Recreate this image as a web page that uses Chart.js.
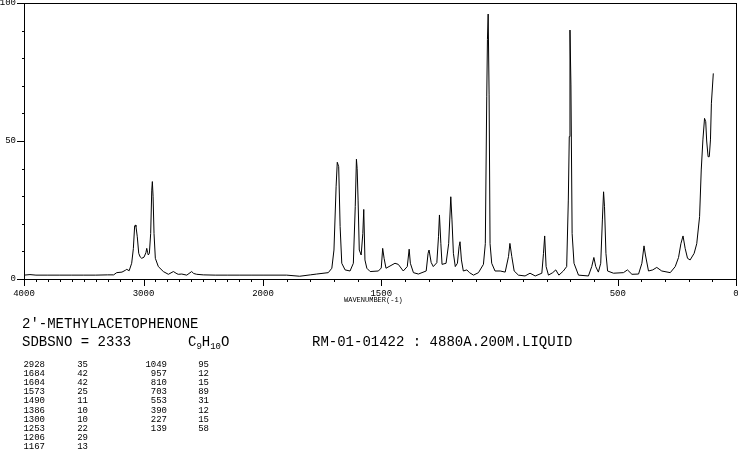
<!DOCTYPE html>
<html>
<head>
<meta charset="utf-8">
<script src="https://cdn.jsdelivr.net/npm/chart.js@4.4.1/dist/chart.umd.min.js"></script>
<style>
  html, body { margin:0; padding:0; background:#fff; }
  #wrap { position:relative; width:738px; height:457px; overflow:hidden; background:#fff; }
  canvas { position:absolute; left:0; top:0; }
  .t { position:absolute; font-family:"Liberation Mono","DejaVu Sans Mono",monospace; color:#000; white-space:pre; line-height:1; }
  .big { font-size:14px; }
  .sm { font-size:9px; }
  .xs { font-size:7px; }
  sub { font-size:9px; vertical-align:-3px; }
</style>
</head>
<body>
<div id="wrap">
  <canvas id="c" width="738" height="457"></canvas>
  <div class="t xs" id="xtitle" style="left:344px; top:297px;">WAVENUMBER(-1)</div>
  <div class="t big" style="left:22px; top:317px;">2'-METHYLACETOPHENONE</div>
  <div class="t big" style="left:22px; top:335px;">SDBSNO = 2333</div>
  <div class="t big" style="left:188px; top:335px;">C<sub>9</sub>H<sub>10</sub>O</div>
  <div class="t big" style="left:312px; top:335px;">RM-01-01422 : 4880A.200M.LIQUID</div>
  <div id="table"></div>
</div>
<script>
// ---- spectrum trace (wavenumber cm-1, relative intensity) ----
const wavenumbers = [
  4000,3950,3900,3800,3700,3600,3500,3400,3300,3250,3224,3180,3150,3140,3120,3099,3085,3074,3068,3063,
  3052,3040,3028,3015,2996,2980,2973,2965,2960,2951,2940,2931,2926,2920,2912,2901,2876,2834,2792,2750,
  2720,2709,2680,2638,2597,2580,2555,2500,2400,2300,2200,2100,2000,1900,1845,1800,1773,1724,1709,1700,
  1691,1686,1680,1674,1667,1653,1632,1618,1610,1605,1602,1598,1593,1585,1578,1574,1569,1561,1547,1512,
  1500,1494,1488,1480,1463,1442,1428,1407,1390,1382,1377,1364,1343,1310,1302,1298,1289,1280,1265,1258,
  1254,1248,1243,1226,1215,1206,1201,1195,1187,1178,1171,1167,1161,1153,1138,1127,1110,1089,1068,1060,
  1054,1051,1048,1044,1040,1033,1019,997,976,962,956,948,938,920,892,871,849,821,814,809,
  803,793,775,762,749,730,716,709,705,702,698,693,685,666,624,610,601,593,582,572,
  565,560,556,550,543,518,476,459,440,412,398,389,383,370,352,335,314,278,257,243,
  233,224,215,205,194,177,166,154,147,140,133,128,124,118,113,108,104,96
];
const intensities = [
  1.4,1.6,1.4,1.4,1.4,1.4,1.4,1.4,1.5,1.5,2.3,2.5,3.2,3.5,3.0,5.7,11,19.3,19.5,19,
  15.3,9.3,8.0,7.5,7.9,9.5,11.1,9.5,8.7,9.3,16.5,32.2,35.3,30,16.5,7.5,4.5,2.7,1.7,2.7,
  1.9,1.7,1.8,1.4,2.7,2.0,1.7,1.5,1.4,1.4,1.4,1.4,1.4,1.4,1.0,1.5,1.8,2.3,3.9,10.5,
  33.4,42.3,40.7,19,5.7,3.3,2.9,5.7,26.2,43.4,40,28.6,10.5,8.7,16.5,25.2,6.9,3.9,2.7,2.9,
  4.0,11.1,7.5,3.9,4.7,5.7,5.3,2.9,4.5,10.8,5.7,2.3,1.8,2.9,9.3,10.5,6,4.5,5.9,15.3,
  23.2,12.8,5.3,5.7,12.8,29.8,21.4,9.3,4.5,5.7,11.7,13.5,6.9,2.9,3.3,2.3,1.4,2.3,5.3,12.8,
  66,86.8,96,66.7,12.8,5.7,2.9,2.9,2.5,8.1,12.9,8.1,2.9,1.4,1.1,2.1,1.1,2.1,9.3,15.6,
  4.5,1.4,2.3,3.3,1.4,2.9,4.5,28.6,51.6,90.2,70.3,16.5,5.7,1.4,1.1,4.5,7.8,4.5,2.5,5.7,
  21.4,31.6,26.2,9.3,2.9,2.1,2.3,3.3,1.7,1.8,5.7,12,8.7,2.9,3.3,4.2,2.9,2.3,4.5,7.8,
  12.8,15.6,11.1,7.5,6.9,9.3,12.8,22.6,39.5,50.4,58.2,57,50,44.3,44.3,50.4,63.7,74.5
];

// ---- peak table ----
const peakWavenumbers = [2928,1684,1604,1573,1490,1386,1300,1253,1206,1167,1049,957,810,703,553,390,227,139];
const peakIntensities = [35,42,42,25,11,10,10,22,29,13,95,12,15,89,31,12,15,58];

// ---- axis ticks ----
const xTickValues = [4000,3000,2000,1500,500,0];
const yTickValues = [0,50,100];
const xMinorStep = 100;
const yMinorStep = 10;

// peak table text
(function(){
  const wrap = document.getElementById('wrap');
  const colRows = 10;
  peakWavenumbers.forEach((w, i) => {
    const col = Math.floor(i / colRows), row = i % colRows;
    const top = 361 + row * 9.1;
    const a = document.createElement('div');
    a.className = 't sm';
    a.style.top = top + 'px';
    a.style.textAlign = 'right';
    a.style.width = '40px';
    a.style.left = (col === 0 ? 5 : 127) + 'px';
    a.textContent = String(w);
    wrap.appendChild(a);
    const b = document.createElement('div');
    b.className = 't sm';
    b.style.top = top + 'px';
    b.style.textAlign = 'right';
    b.style.width = '20px';
    b.style.left = (col === 0 ? 68 : 189) + 'px';
    b.textContent = String(peakIntensities[i]);
    wrap.appendChild(b);
  });
})();

// ---- a wavenumber axis whose 4000-2000 half is compressed (as in the original) ----
class BrokenAxis extends Chart.LinearScale {
  buildTicks() { return xTickValues.map(v => ({ value: v })); }
  _frac() { return 0.3357; }
  getPixelForValue(value) {
    const fr = this._frac();
    let f;
    if (value >= 2000) f = (4000 - value) / 2000 * fr;
    else f = fr + (2000 - value) / 2000 * (1 - fr);
    return this.left + f * this.width;
  }
  getValueForPixel(px) {
    const fr = this._frac();
    const f = (px - this.left) / this.width;
    if (f <= fr) return 4000 - f / fr * 2000;
    return 2000 - (f - fr) / (1 - fr) * 2000;
  }
}
BrokenAxis.id = 'brokenAxis';
BrokenAxis.defaults = {};
Chart.register(BrokenAxis);

const frame = {
  id: 'frame',
  afterDraw(chart) {
    const ctx = chart.ctx, a = chart.chartArea;
    const xs = chart.scales.x, ys = chart.scales.y;
    ctx.save();
    ctx.strokeStyle = '#000';
    ctx.lineWidth = 1;
    ctx.strokeRect(a.left + 0.5, a.top + 0.5, a.right - a.left, a.bottom - a.top);
    ctx.beginPath();
    for (let v = 0; v <= 100; v += yMinorStep) {
      const y = Math.round(ys.getPixelForValue(v)) + 0.5;
      const len = yTickValues.includes(v) ? 7 : 2;
      ctx.moveTo(a.left - len, y); ctx.lineTo(a.left, y);
    }
    for (let w = 0; w <= 4000; w += xMinorStep) {
      const x = Math.round(xs.getPixelForValue(w)) + 0.5;
      const len = xTickValues.includes(w) ? 6 : 2;
      ctx.moveTo(x, a.bottom); ctx.lineTo(x, a.bottom + 1 + len);
    }
    ctx.stroke();
    ctx.restore();
  }
};

const tickFont = { family: '"Liberation Mono","DejaVu Sans Mono",monospace', size: 9 };
const noPad = s => { s.paddingTop = 0; s.paddingBottom = 0; s.paddingLeft = 0; s.paddingRight = 0; };

new Chart(document.getElementById('c'), {
  type: 'line',
  data: {
    datasets: [{
      data: wavenumbers.map((w, i) => ({ x: w, y: intensities[i] })),
      borderColor: '#000',
      borderWidth: 1,
      pointRadius: 0,
      tension: 0,
      fill: false
    }]
  },
  options: {
    responsive: false,
    devicePixelRatio: 1,
    animation: false,
    layout: { padding: { top: 3, right: 2, left: 0, bottom: 0 } },
    plugins: { legend: { display: false }, tooltip: { enabled: false } },
    scales: {
      x: {
        type: 'brokenAxis',
        min: 0, max: 4000,
        position: 'bottom',
        grid: { display: false, drawTicks: false },
        border: { display: false },
        ticks: { font: tickFont, color: '#000', padding: 9, maxRotation: 0, autoSkip: false,
                 callback: v => String(v) },
        afterFit: s => { s.height = 178; noPad(s); }
      },
      y: {
        type: 'linear',
        min: 0, max: 100,
        grid: { display: false, drawTicks: false },
        border: { display: false },
        ticks: { font: tickFont, color: '#000', padding: 8, stepSize: 50,
                 callback: v => String(v) },
        afterFit: s => { s.width = 24; noPad(s); }
      }
    }
  },
  plugins: [frame]
});
</script>
</body>
</html>
